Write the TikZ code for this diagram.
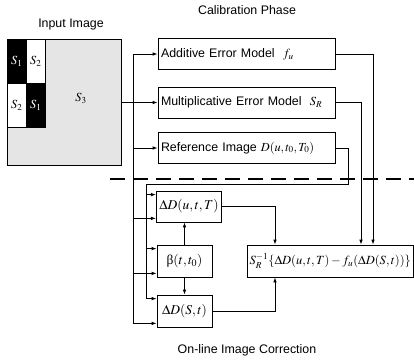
\documentclass[tikz,border=0pt]{standalone}
\usepackage{mathptmx}
\usepackage[no-math]{fontspec}
\setmainfont{Liberation Sans}
\newfontfamily\grk{Liberation Serif}
\usetikzlibrary{positioning, arrows.meta}

\tikzset{
  blk/.style={draw, line width=0.8pt, minimum height=31pt, inner sep=3pt},
  calib/.style={blk, text width=171pt, align=left},
  wire/.style={line width=0.8pt},
  lnk/.style={wire, -{Latex[length=5pt,width=3.6pt]}},
}
\newcommand{\mth}[2][13.5]{{\fontsize{#1}{15}\selectfont$#2$}}

\begin{document}
\begin{tikzpicture}[x=1pt, y=-1pt, every node/.style={font=\fontsize{12.4}{14}\selectfont}]
\useasboundingbox (0,0) rectangle (414,363);

% Titulos
\node (tin) at (71,25) {Input Image};
\node (tcal) at (247,10) {Calibration Phase};
\node (tonl) at (247,350) {On-line Image Correction};

% Imagem de entrada
\node[draw, fill=black!10, line width=0.8pt, inner sep=0pt,
      minimum width=114pt, minimum height=126pt] (img) at (64,102) {};
\foreach \x/\y/\c/\t/\n in {7/39/black/white/1, 26/39/white/black/2, 7/83/white/black/2, 26/83/black/white/1} {
  \node[draw, fill=\c, text=\t, inner sep=0pt, anchor=north west,
        minimum width=19pt, minimum height=44pt] (cell-\x-\y) at (\x,\y) {$S_{\n}$};
}
\node (s3) at (81,98) {$S_3$};

% Fase de calibracao
\node[calib] (add) at (246.5,54) {Additive Error Model\ \ $f_u$};
\node[calib] (mul) at (246.5,102.5) {Multiplicative Error Model\ \ $S_R$};
\node[calib] (ref) at (246.5,148) {Reference Image \mth[12.3]{D(u,t_0,T_0)}};

% Linha tracejada
\draw[line width=2.6pt, dash pattern=on 15pt off 8pt] (110,179) -- (414,179);

% Correcao on-line
\node[blk, minimum width=64pt] (dut) at (189,206.5) {\mth{\Delta D(u,t,T)}};
\node[blk, minimum width=55pt, minimum height=32pt] (beta) at (184.5,261) {\mth{\mbox{\grk β}(t,t_0)}};
\node[blk, minimum width=55pt, minimum height=32pt] (dst) at (184.5,311) {\mth{\Delta D(S,t)}};
\node[blk, minimum width=166pt, minimum height=32pt, inner xsep=2pt] (corr) at (330.25,261)
  {\mth[12.5]{S_R^{-1}\{\Delta D(u,t,T)-f_u(\Delta D(S,t))\}}};

% Barramentos
\coordinate (busout) at (133,0);
\coordinate (busin) at (146,0);
\coordinate (refturn) at (348,184);
\coordinate (addx) at (373,0);
\coordinate (mulx) at (361,0);
\coordinate (joinx) at (275,0);

\foreach \b in {dut, beta, dst} {
  \coordinate (\b-hi) at ([yshift=-4pt]\b.north west);
  \coordinate (\b-lo) at ([yshift=4pt]\b.south west);
  \draw[lnk] (busin |- \b-hi) -- (\b-hi);
  \draw[lnk] (busout |- \b-lo) -- (\b-lo);
}

\draw[wire] (busout |- add.west) -- (busout |- dst-lo);
\draw[lnk] (busout |- add.west) -- (add.west);
\draw[lnk] (img.east |- mul.west) -- (mul.west);
\draw[lnk] (busout |- ref.west) -- (ref.west);

\draw[wire] (ref.east) -| (refturn) -- (busin |- refturn) -- (busin |- dst-hi);

% Saidas
\draw[lnk] (add.east) -| (addx |- corr.north);
\draw[lnk] (mul.east) -| (mulx |- corr.north);
\draw[lnk] (dut.east) -| (joinx |- corr.north);
\draw[lnk] (dst.east) -| (joinx |- corr.south);
\draw[lnk] (beta.north) -- (beta.north |- dut.south);
\draw[lnk] (beta.south) -- (dst.north);

\end{tikzpicture}
\end{document}
